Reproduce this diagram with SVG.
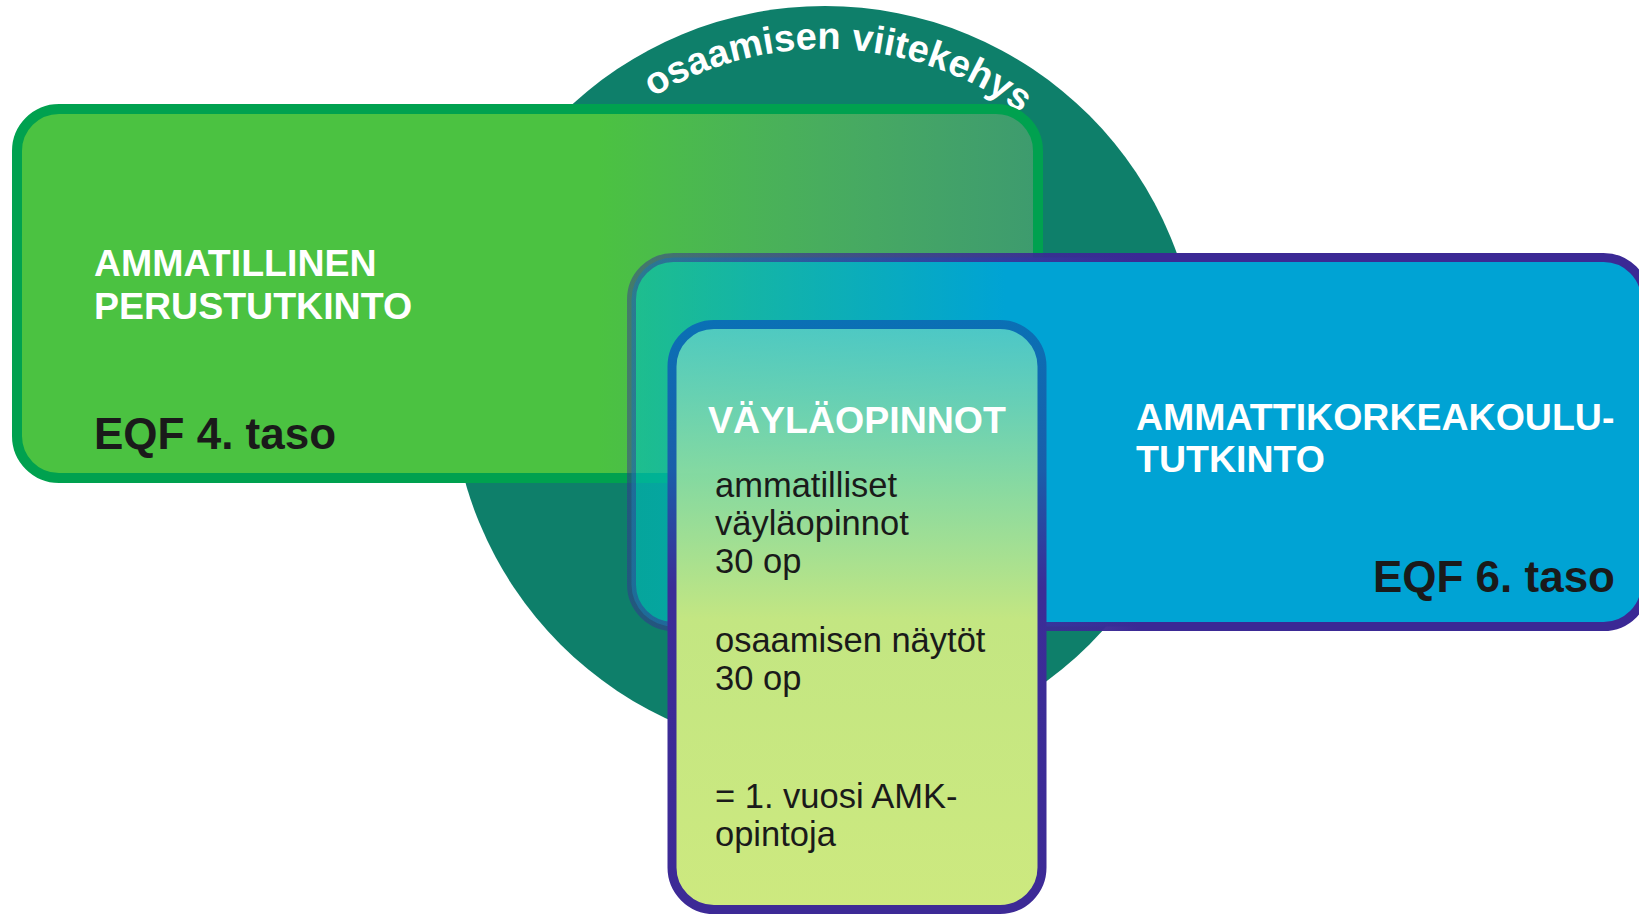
<svg xmlns="http://www.w3.org/2000/svg" xmlns:xlink="http://www.w3.org/1999/xlink" width="1639" height="916" viewBox="0 0 1639 916">
<style>
.hd{font-family:"Liberation Sans",Arial,sans-serif;font-weight:bold;font-size:37.5px;fill:#ffffff}
.eqf{font-family:"Liberation Sans",Arial,sans-serif;font-weight:bold;font-size:44px;fill:#1a1a1a}
.body{font-family:"Liberation Sans",Arial,sans-serif;font-size:34.5px;fill:#1a1a1a}
.arc{font-family:"Liberation Sans",Arial,sans-serif;font-weight:bold;font-size:38px;fill:#ffffff}
</style>
<defs>
<linearGradient id="gFill" gradientUnits="userSpaceOnUse" x1="17" y1="0" x2="1038" y2="0">
<stop offset="0.57" stop-color="#4bc241" stop-opacity="1"/>
<stop offset="1" stop-color="#6cb772" stop-opacity="0.5"/>
</linearGradient>
<linearGradient id="bFill" gradientUnits="userSpaceOnUse" x1="627" y1="0" x2="1650" y2="0">
<stop offset="0" stop-color="#00bebb" stop-opacity="0.6"/>
<stop offset="0.37" stop-color="#00a3d4" stop-opacity="1"/>
<stop offset="1" stop-color="#00a3d4" stop-opacity="1"/>
</linearGradient>
<linearGradient id="bStroke" gradientUnits="userSpaceOnUse" x1="627" y1="0" x2="1650" y2="0">
<stop offset="0" stop-color="#3b2995" stop-opacity="0.45"/>
<stop offset="0.5" stop-color="#3b2995" stop-opacity="1"/>
<stop offset="1" stop-color="#3b2995" stop-opacity="1"/>
</linearGradient>
<linearGradient id="iFill" gradientUnits="userSpaceOnUse" x1="0" y1="324" x2="0" y2="914">
<stop offset="0" stop-color="#58cdc6" stop-opacity="0.85"/>
<stop offset="0.27" stop-color="#8edc9f" stop-opacity="0.95"/>
<stop offset="0.5" stop-color="#c3e682" stop-opacity="1"/>
<stop offset="1" stop-color="#cde97f" stop-opacity="1"/>
</linearGradient>
<linearGradient id="iStroke" gradientUnits="userSpaceOnUse" x1="0" y1="320" x2="0" y2="914">
<stop offset="0" stop-color="#0a70b5"/>
<stop offset="0.25" stop-color="#1a5eaa"/>
<stop offset="0.45" stop-color="#3b2d97"/>
<stop offset="1" stop-color="#3d2a96"/>
</linearGradient>
<path id="arcPath" d="M 538.3 214.5 A 331 331 0 0 1 1125 240.1"/>
</defs>
<rect x="0" y="0" width="1639" height="916" fill="#ffffff"/>
<g id="viitekehys">
<circle cx="825" cy="380" r="374" fill="#0e7f6a"/>
<text class="arc"><textPath href="#arcPath" xlink:href="#arcPath" startOffset="50%" text-anchor="middle">osaamisen viitekehys</textPath></text>
</g>
<g id="ammatillinen">
<rect x="17" y="109" width="1021" height="369" rx="42" ry="42" fill="url(#gFill)" stroke="#00a14f" stroke-width="10"/>
<text class="hd" x="94" y="276">AMMATILLINEN</text>
<text class="hd" x="94" y="319">PERUSTUTKINTO</text>
<text class="eqf" x="94" y="449">EQF 4. taso</text>
</g>
<g id="amk">
<rect x="631.5" y="257.5" width="1014" height="369" rx="42" ry="42" fill="url(#bFill)" stroke="url(#bStroke)" stroke-width="9"/>
<text class="hd" x="1136" y="430">AMMATTIKORKEAKOULU-</text>
<text class="hd" x="1136" y="472">TUTKINTO</text>
<text class="eqf" x="1615" y="592" text-anchor="end">EQF 6. taso</text>
</g>
<g id="vaylaopinnot">
<rect x="672" y="324.5" width="370" height="585" rx="42" ry="42" fill="url(#iFill)" stroke="url(#iStroke)" stroke-width="9"/>
<text class="hd" x="708" y="433">VÄYLÄOPINNOT</text>
<text class="body" x="715" y="497">ammatilliset</text>
<text class="body" x="715" y="535">väyläopinnot</text>
<text class="body" x="715" y="573">30 op</text>
<text class="body" x="715" y="652">osaamisen näytöt</text>
<text class="body" x="715" y="690">30 op</text>
<text class="body" x="715" y="808">= 1. vuosi AMK-</text>
<text class="body" x="715" y="846">opintoja</text>
</g>
<g id="connectors"/>
</svg>
